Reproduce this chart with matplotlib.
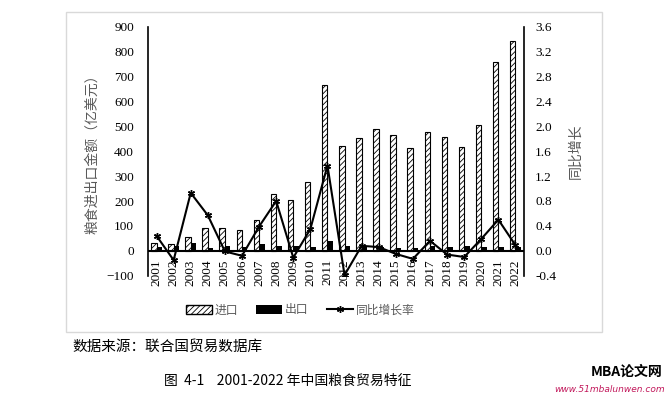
import matplotlib.pyplot as plt
import matplotlib.patches as mpatches
import matplotlib.transforms as mtransforms
from matplotlib.lines import Line2D
import numpy as np

plt.rcParams['font.family'] = ['Liberation Serif', 'Noto Sans CJK SC']
plt.rcParams['hatch.linewidth'] = 0.6

years = [str(y) for y in range(2001, 2023)]
imports = [33, 27, 57, 93, 93, 85, 125, 227, 204, 276, 664, 419,
           452, 489, 466, 414, 478, 457, 416, 505, 759, 842]
exports = [16, 20, 31, 12, 20, 16, 27, 20, 20, 16, 40, 19,
           20, 16, 13, 13, 20, 17, 21, 17, 17, 17]
growth = [0.24, -0.15, 0.93, 0.57, -0.01, -0.08, 0.39, 0.80, -0.11, 0.35, 1.37, -0.39,
          0.08, 0.06, -0.05, -0.13, 0.16, -0.06, -0.10, 0.19, 0.50, 0.09]

gray = '#595959'
cjk = ['Noto Sans CJK SC', 'DejaVu Sans']
serif = 'Liberation Serif'

fig = plt.figure(figsize=(6.67, 3.97), dpi=100)
W, H = 667, 397

# light frame around chart area
fig.patches.append(mpatches.Rectangle((66 / W, 1 - 332 / H), (602 - 66) / W, (332 - 12) / H,
                                      transform=fig.transFigure, fill=False,
                                      edgecolor='#d9d9d9', lw=1))

ax = fig.add_axes([148 / W, 1 - 275.7 / H, (524 - 148) / W, (275.7 - 26.7) / H])
x = np.arange(len(years))
bw = 0.32
ax.bar(x - bw / 2, imports, bw, facecolor='white', edgecolor='black', hatch='//////', lw=0.8)
ax.bar(x + bw / 2, exports, bw, color='black')
ax.set_xlim(-0.5, len(years) - 0.5)
ax.set_ylim(-100, 900)
ax.set_yticks(range(-100, 901, 100))
ax.tick_params(axis='y', length=0, labelsize=9.5, pad=10)
for lab in ax.get_yticklabels():
    lab.set_fontfamily(serif)
ax.set_xticks([])
off = mtransforms.offset_copy(ax.transData, fig=fig, x=0, y=-6, units='points')
for xi, yr in zip(x, years):
    ax.text(xi, 0, yr, rotation=90, ha='center', va='top', fontsize=9.5, family=serif,
            transform=off)
ax.axhline(0, color='black', lw=1.5)
for s in ['top', 'bottom', 'right']:
    ax.spines[s].set_visible(False)
ax.spines['left'].set_linewidth(1.2)
ax.set_ylabel('粮食进出口金额（亿美元）', family=cjk, color=gray, fontsize=10, labelpad=5)

ax2 = ax.twinx()
ax2.plot(x, growth, color='black', lw=1.5, marker=(6, 2, 0), ms=5, mew=1)
ax2.set_ylim(-0.4, 3.6)
ax2.set_yticks(np.arange(-0.4, 3.61, 0.4))
ax2.set_yticklabels(['%.1f' % v for v in np.arange(-0.4, 3.61, 0.4)], family=serif)
ax2.tick_params(axis='y', length=0, labelsize=9.5, pad=8)
for s in ['top', 'bottom', 'left']:
    ax2.spines[s].set_visible(False)
ax2.spines['right'].set_linewidth(1.2)
ax2.set_ylabel('同比增长', family=cjk, color=gray, fontsize=10, rotation=90, labelpad=9)

handles = [mpatches.Patch(facecolor='white', edgecolor='black', hatch='//////'),
           mpatches.Patch(facecolor='black'),
           Line2D([], [], color='black', lw=1.5, marker=(6, 2, 0), ms=5)]
fig.legend(handles, ['进口', '出口', '同比增长率'], loc='center', bbox_to_anchor=(300 / W, 1 - 310 / H),
           ncol=3, frameon=False, prop={'family': cjk, 'size': 8.5}, labelcolor=gray,
           handlelength=2.2, handletextpad=0.2, columnspacing=1.6)

fig.text(72 / W, 1 - 347 / H, '数据来源：联合国贸易数据库', family=cjk, fontsize=10.5, va='center')
fig.text(288 / W, 1 - 381 / H, '图  4-1    2001-2022 年中国粮食贸易特征', family=cjk, fontsize=10,
         ha='center', va='center')
fig.text(662 / W, 1 - 372 / H, 'MBA论文网', family=cjk, fontsize=10, weight='bold', style='italic',
         ha='right', va='center')
fig.text(665 / W, 1 - 389 / H, 'www.51mbalunwen.com', family='DejaVu Sans', fontsize=6.5,
         style='italic', color='#c2185b', ha='right', va='center')

fig.savefig('out.png', dpi=100)
